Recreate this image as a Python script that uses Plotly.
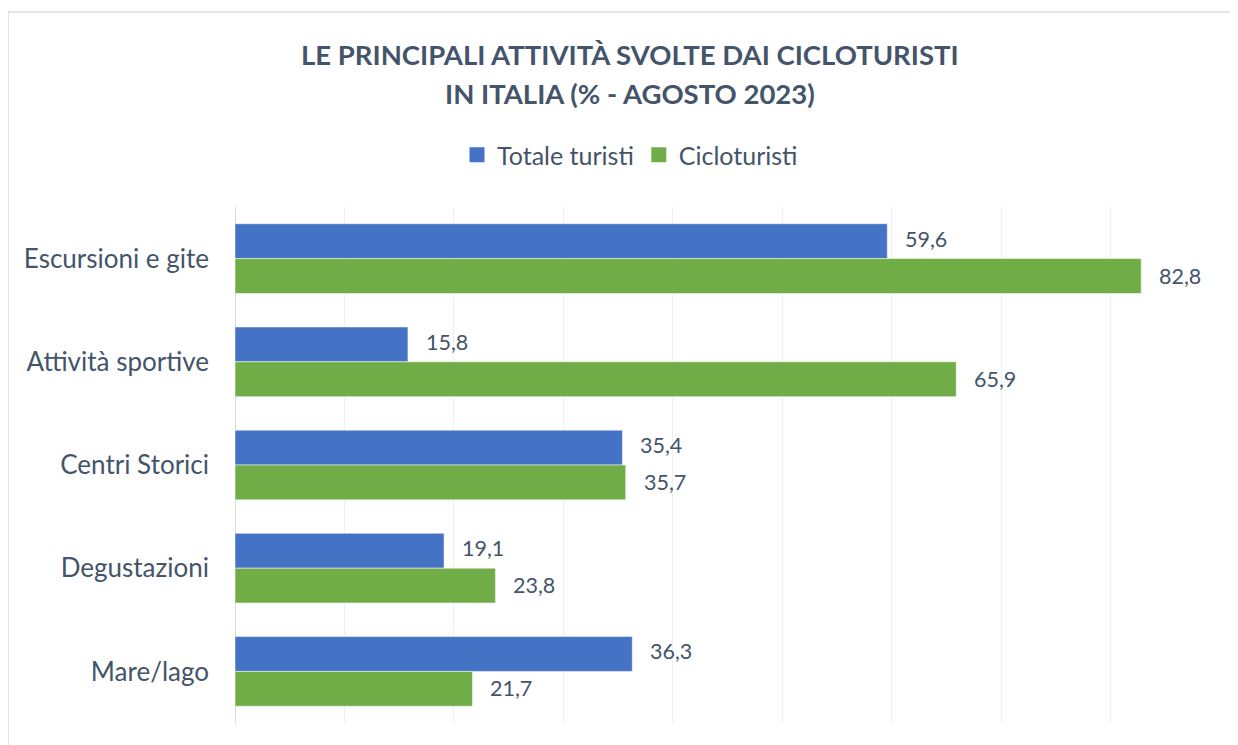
import plotly.graph_objects as go

categories = ["Escursioni e gite", "Attività sportive", "Centri Storici", "Degustazioni", "Mare/lago"]
totale_turisti = [59.6, 15.8, 35.4, 19.1, 36.3]
cicloturisti = [82.8, 65.9, 35.7, 23.8, 21.7]
series_names = ["Totale turisti", "Cicloturisti"]
title_lines = ["LE PRINCIPALI ATTIVITÀ SVOLTE DAI CICLOTURISTI", "IN ITALIA (% - AGOSTO 2023)"]
colors = ["#4472C4", "#70AD47"]
text_color = "#44546A"
FONT = "Lato"

W, H = 1230, 737  # page body has an 8px margin
ML, MR, MT, MB = 227, 18, 199, 22
PW, PH = W - ML - MR, H - MT - MB

def fmt(v):
    return f"{v:.1f}".replace(".", ",")

fig = go.Figure()
for name, vals, col in zip(series_names, [totale_turisti, cicloturisti], colors):
    fig.add_trace(go.Bar(
        y=categories, x=vals, name=name, orientation="h",
        marker=dict(color=col, line=dict(color="rgba(255,255,255,0.5)", width=1)),
        hoverinfo="x+name", showlegend=False,
    ))
# legend entries with larger square swatches
for name, col in zip(series_names, colors):
    fig.add_trace(go.Scatter(
        x=[None], y=[None], mode="markers", name=name,
        marker=dict(symbol="square", size=15, color=col),
        showlegend=True, hoverinfo="skip",
    ))

annotations = []
for vals, yshift in [(totale_turisti, 20), (cicloturisti, -17)]:
    for c, v in zip(categories, vals):
        annotations.append(dict(
            x=v, y=c, xref="x", yref="y", text=fmt(v), showarrow=False,
            xanchor="left", yanchor="middle", xshift=16, yshift=yshift,
            font=dict(family=FONT, size=21.5, color=text_color),
        ))
# title lines (page y centers 55 and 93)
for line, py in zip(title_lines, [55, 93]):
    annotations.append(dict(
        text=f"<b>{line}</b>", showarrow=False,
        xref="paper", yref="paper",
        x=(630 - 8 - ML) / PW, y=(MT + PH - (py - 8)) / PH,
        xanchor="center", yanchor="middle",
        font=dict(family=FONT, size=27.5, color=text_color),
    ))

fig.update_layout(
    width=W, height=H,
    margin=dict(l=ML, r=MR, t=MT, b=MB),
    paper_bgcolor="white", plot_bgcolor="white",
    barmode="group", bargap=0.325, bargroupgap=0,
    legend=dict(
        orientation="h", x=622 / W, xanchor="center", xref="container",
        y=1 - 147 / H, yref="container", yanchor="middle",
        font=dict(family=FONT, size=25, color=text_color),
        traceorder="normal", itemwidth=30,
    ),
    xaxis=dict(
        range=[0, 90], dtick=10, showticklabels=False,
        showgrid=True, gridcolor="#EDEFF4", gridwidth=1,
        zeroline=True, zerolinecolor="#D9D9D9", zerolinewidth=1,
        showline=False, fixedrange=True,
    ),
    yaxis=dict(
        autorange="reversed", showgrid=False, showline=False,
        tickfont=dict(family=FONT, size=26, color=text_color),
        ticks="", ticklabelstandoff=25, fixedrange=True,
    ),
    annotations=annotations,
    shapes=[dict(
        type="rect", xref="paper", yref="paper",
        x0=-ML / PW, x1=1.1, y0=-0.2, y1=(PH + MT - 4) / PH,
        line=dict(color="#D9DCE3", width=1.5), fillcolor="rgba(0,0,0,0)", layer="below",
    )],
)

fig.write_html("out.html")
